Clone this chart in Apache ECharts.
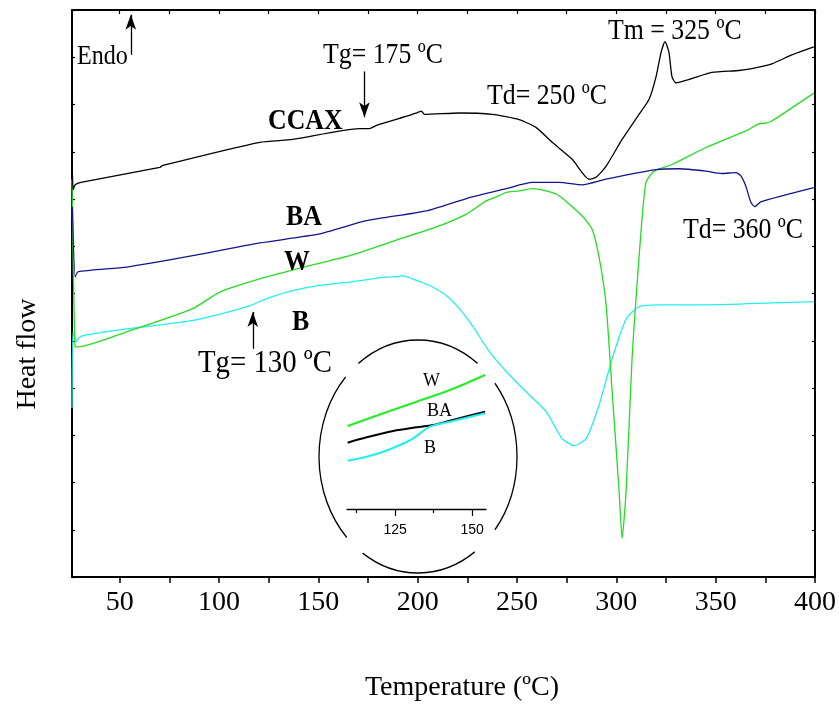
<!DOCTYPE html>
<html><head><meta charset="utf-8">
<script src="https://cdn.jsdelivr.net/npm/echarts@6/dist/echarts.min.js"></script>
<style>html,body{margin:0;padding:0;background:#fff}#c{width:839px;height:707px}</style>
</head><body><div id="c"></div>
<script>
// ---- data (temperature ºC, heat flow in arbitrary units) ----
const xTickLabels = [50, 100, 150, 200, 250, 300, 350, 400];
const xTicks = [50, 75, 100, 125, 150, 175, 200, 225, 250, 275, 300, 325, 350, 375, 400];

const ccax = [[26.0,8.9],[26.6,8.2],[27.6,8.3],[30.5,8.35],[70.2,8.67],[71.7,8.71],[120.5,9.20],[137.1,9.26],[170.7,9.49],[175.7,9.49],[179.3,9.56],[195.8,9.77],[199.9,9.83],[201.9,9.86],[203.4,9.79],[221.0,9.82],[237.6,9.79],[251.1,9.68],[259.7,9.51],[267.7,9.20],[277.8,8.84],[286.3,8.42],[289.8,8.46],[294.8,8.69],[302.9,9.26],[311.4,9.79],[316.5,10.11],[320.0,10.59],[322.5,11.10],[324.5,11.33],[326.5,11.10],[328.0,10.59],[330.0,10.46],[336.6,10.53],[348.1,10.68],[361.7,10.72],[368.2,10.76],[378.3,10.86],[388.3,11.05],[399.4,11.22]];

const ba = [[26.2,7.83],[27.6,6.35],[29.0,6.46],[53.6,6.56],[86.8,6.80],[120.5,7.07],[150.6,7.26],[174.2,7.54],[204.4,7.75],[224.5,8.01],[244.6,8.22],[257.7,8.35],[271.2,8.35],[282.8,8.30],[294.8,8.42],[320.0,8.62],[331.5,8.64],[345.1,8.59],[353.1,8.54],[360.2,8.56],[362.7,8.49],[365.2,8.27],[367.7,7.93],[369.7,7.84],[372.7,7.94],[399.4,8.24]];

const w = [[26.0,8.42],[27.5,4.89],[29.0,4.87],[53.6,5.19],[86.8,5.68],[100.4,6.03],[120.5,6.31],[145.6,6.59],[165.7,6.80],[190.8,7.15],[210.9,7.43],[224.5,7.68],[234.5,7.96],[241.1,8.07],[244.6,8.14],[251.1,8.17],[257.7,8.22],[264.7,8.17],[271.2,8.07],[282.8,7.64],[287.8,7.36],[291.3,6.77],[294.8,5.78],[297.9,3.92],[301.4,1.81],[302.9,0.82],[304.9,1.81],[307.9,4.62],[309.9,5.89],[312.4,7.30],[314.9,8.35],[319.0,8.59],[328.0,8.73],[345.1,9.09],[365.2,9.44],[371.7,9.59],[375.7,9.61],[378.3,9.65],[399.4,10.24]];

const b = [[26.0,3.57],[26.5,5.19],[28.0,4.98],[29.5,5.06],[31.5,5.11],[53.6,5.25],[86.8,5.43],[115.4,5.74],[124.0,5.89],[137.1,6.06],[150.6,6.17],[165.7,6.24],[182.3,6.34],[190.8,6.36],[192.3,6.38],[197.4,6.31],[205.9,6.17],[214.4,5.96],[221.0,5.68],[227.5,5.32],[236.1,4.77],[244.6,4.35],[254.6,3.92],[264.7,3.50],[272.7,2.93],[278.8,2.78],[284.8,2.93],[291.3,3.64],[297.9,4.62],[304.9,5.46],[311.4,5.72],[321.5,5.76],[345.1,5.76],[378.3,5.80],[399.4,5.83]];

// arrows: [x, yStart, yEnd(tip)]
const arrows = [[55.6, 11.05, 11.90], [173.2, 10.70, 9.73], [117.0, 4.83, 5.61]];

// inset (zoom of 110-155 ºC)
const insetTickLabels = [125, 150];
const insetMinorTicks = [112.5, 137.5];
const insetW = [[109.6,83],[121.2,95.7],[132.0,107.3],[142.8,119],[154.2,134]];
const insetBA = [[109.6,66.3],[115.8,71.7],[124.4,78],[132.0,81.7],[137.4,84],[142.8,88.3],[154.2,97.3]];
const insetB = [[109.6,48.3],[115.8,52.3],[121.2,57.3],[126.6,64],[130.9,70.7],[136.3,82.3],[142.8,87.3],[154.2,95.7]];

// ---- chart ----
const SERIF = 'Liberation Serif';
const chart = echarts.init(document.getElementById('c'), null, {renderer: 'canvas'});

function txt(x, y, text, size, opts) {
  opts = opts || {};
  return {
    type: 'text', x: x, y: y, scaleX: opts.sx == null ? 0.86 : opts.sx, z: 100,
    style: {
      text: text, fontFamily: opts.family || SERIF, fontSize: size,
      fontWeight: opts.bold ? 'bold' : 'normal', fill: '#000',
      align: 'left', verticalAlign: 'middle', textAlign: 'left', textVerticalAlign: 'middle'
    }
  };
}
function arc(a0, a1) {
  const d = Math.PI / 180;
  return {
    type: 'arc', x: 418, y: 456.5, scaleY: 116.5 / 99, z: 50,
    shape: {cx: 0, cy: 0, r: 99, startAngle: a0 * d, endAngle: a1 * d, clockwise: true},
    style: {stroke: '#000', fill: 'none', lineWidth: 1.3, strokeNoScale: true}
  };
}

const axisLine = {show: true, onZero: false, lineStyle: {color: '#000', width: 2}};

const option = {
  animation: false,
  backgroundColor: '#fff',
  grid: [
    {left: 72, right: 24, top: 10, bottom: 128},
    {left: 347, width: 139, top: 359, height: 150}
  ],
  xAxis: [
    {type: 'value', gridIndex: 0, min: 26, max: 400, position: 'bottom',
     axisLine: axisLine,
     axisTick: {show: true, inside: false, length: 6, customValues: xTicks, lineStyle: {color: '#000', width: 1.5}},
     axisLabel: {show: true, customValues: xTickLabels, fontFamily: SERIF, fontSize: 28, color: '#000', margin: 12},
     splitLine: {show: false},
     name: 'Temperature (ºC)', nameLocation: 'middle', nameGap: 97,
     nameTextStyle: {fontFamily: SERIF, fontSize: 28, color: '#000', padding: [0, 0, 0, 37]}},
    {type: 'value', gridIndex: 0, min: 26, max: 400, position: 'top',
     axisLine: axisLine,
     axisTick: {show: true, inside: true, length: 4, customValues: xTicks, lineStyle: {color: '#000', width: 1.2}},
     axisLabel: {show: false}, splitLine: {show: false}},
    {type: 'value', gridIndex: 1, min: 109.4, max: 154.5, position: 'bottom',
     axisLine: {show: true, onZero: false, lineStyle: {color: '#000', width: 1.3}},
     axisTick: {show: true, inside: false, length: 7, customValues: insetTickLabels, lineStyle: {color: '#000', width: 1.2}},
     axisLabel: {show: true, customValues: insetTickLabels, fontFamily: 'Liberation Sans', fontSize: 14, color: '#000', margin: 14},
     splitLine: {show: false}},
    {type: 'value', gridIndex: 1, min: 109.4, max: 154.5, position: 'bottom',
     axisLine: {show: false, onZero: false},
     axisTick: {show: true, inside: false, length: 4, customValues: insetMinorTicks, lineStyle: {color: '#000', width: 1.2}},
     axisLabel: {show: false}, splitLine: {show: false}}
  ],
  yAxis: [
    {type: 'value', gridIndex: 0, min: 0, max: 12, interval: 1, position: 'left',
     axisLine: axisLine,
     axisTick: {show: true, inside: true, length: 3, lineStyle: {color: '#000', width: 1.2}},
     axisLabel: {show: false}, splitLine: {show: false},
     name: 'Heat flow', nameLocation: 'middle', nameGap: 30, nameRotate: 90,
     nameTextStyle: {fontFamily: SERIF, fontSize: 28, color: '#000', padding: [0, 121, 0, 0]}},
    {type: 'value', gridIndex: 0, min: 0, max: 12, interval: 1, position: 'right',
     axisLine: axisLine,
     axisTick: {show: true, inside: true, length: 3, lineStyle: {color: '#000', width: 1.2}},
     axisLabel: {show: false}, splitLine: {show: false}},
    {type: 'value', gridIndex: 1, min: 0, max: 150, show: false}
  ],
  series: [
    {name: 'CCAX', type: 'line', xAxisIndex: 0, yAxisIndex: 0, data: ccax, showSymbol: false, smooth: 0.2,
     lineStyle: {color: '#000', width: 1.3}, z: 5,
     markLine: {silent: true, symbol: ['none', 'arrow'], symbolSize: [8, 15], label: {show: false},
       lineStyle: {color: '#000', width: 1.3, type: 'solid'},
       data: arrows.map(a => [{coord: [a[0], a[1]]}, {coord: [a[0], a[2]]}])}},
    {name: 'BA', type: 'line', xAxisIndex: 0, yAxisIndex: 0, data: ba, showSymbol: false, smooth: 0.2,
     lineStyle: {color: '#14148c', width: 1.3}, z: 4},
    {name: 'W', type: 'line', xAxisIndex: 0, yAxisIndex: 0, data: w, showSymbol: false, smooth: 0.2,
     lineStyle: {color: '#22dd22', width: 1.3}, z: 3},
    {name: 'B', type: 'line', xAxisIndex: 0, yAxisIndex: 0, data: b, showSymbol: false, smooth: 0.2,
     lineStyle: {color: '#22eeee', width: 1.3}, z: 2},
    {name: 'W inset', type: 'line', xAxisIndex: 2, yAxisIndex: 2, data: insetW, showSymbol: false, smooth: 0.3,
     lineStyle: {color: '#22ee22', width: 2}},
    {name: 'BA inset', type: 'line', xAxisIndex: 2, yAxisIndex: 2, data: insetBA, showSymbol: false, smooth: 0.3,
     lineStyle: {color: '#000', width: 2}},
    {name: 'B inset', type: 'line', xAxisIndex: 2, yAxisIndex: 2, data: insetB, showSymbol: false, smooth: 0.3,
     lineStyle: {color: '#22eeee', width: 2}}
  ],
  graphic: [
    txt(77, 57, 'Endo', 28),
    txt(323, 55, 'Tg= 175 ºC', 30),
    txt(487, 96, 'Td= 250 ºC', 30),
    txt(608, 31, 'Tm = 325 ºC', 30),
    txt(683, 230, 'Td= 360 ºC', 30),
    txt(198, 364, 'Tg= 130 ºC', 32, {sx: 0.9}),
    txt(268, 121, 'CCAX', 30, {bold: true}),
    txt(286, 217, 'BA', 30, {bold: true}),
    txt(284, 262, 'W', 30, {bold: true}),
    txt(292, 322, 'B', 30, {bold: true}),
    txt(423, 381, 'W', 18, {sx: 1}),
    txt(427, 411, 'BA', 18, {sx: 1}),
    txt(424, 448, 'B', 18, {sx: 1}),
    arc(-127, -53), arc(-39, 39), arc(55, 124), arc(136, 223)
  ]
};
chart.setOption(option);
</script>
</body></html>
